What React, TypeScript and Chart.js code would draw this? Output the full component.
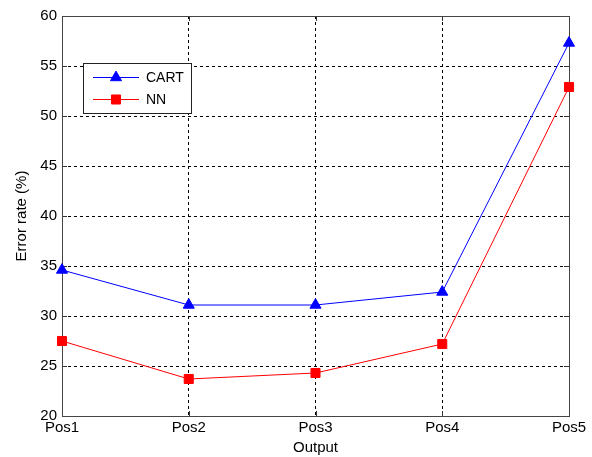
import React, { useEffect, useRef } from "react";
import { Chart, registerables } from "chart.js";

Chart.register(...registerables);

const categories = ["Pos1", "Pos2", "Pos3", "Pos4", "Pos5"];
const cartValues = [34.6, 31.1, 31.1, 32.4, 57.3];
const nnValues = [27.5, 23.7, 24.3, 27.2, 52.9];
const yTicks = { min: 20, max: 60, step: 5 };

const FONT = "'Liberation Sans', Arial, Helvetica, sans-serif";

const framePlugin = {
  id: "frame",
  beforeDatasetsDraw(chart: any) {
    const { ctx, chartArea } = chart;
    const { left, right, top, bottom } = chartArea;
    const tl = 5;
    ctx.save();
    ctx.strokeStyle = "#333333";
    ctx.lineWidth = 1;
    ctx.setLineDash([]);
    ctx.beginPath();
    const ys = chart.scales.y;
    ys.ticks.forEach((_t: any, i: number) => {
      const py = Math.round(ys.getPixelForTick(i)) + 0.5;
      ctx.moveTo(left, py);
      ctx.lineTo(left + tl, py);
      ctx.moveTo(right, py);
      ctx.lineTo(right - tl, py);
    });
    const xs = chart.scales.x;
    xs.ticks.forEach((_t: any, i: number) => {
      const px = Math.round(xs.getPixelForTick(i)) + 0.5;
      ctx.moveTo(px, bottom);
      ctx.lineTo(px, bottom - tl);
      ctx.moveTo(px, top);
      ctx.lineTo(px, top + tl);
    });
    ctx.stroke();
    ctx.strokeStyle = "#444444";
    ctx.strokeRect(Math.round(left) + 0.5, Math.round(top) + 0.5, Math.round(right - left), Math.round(bottom - top));
    ctx.restore();
  },
};

function drawMarker(ctx: CanvasRenderingContext2D, style: string, r: number, x: number, y: number) {
  ctx.beginPath();
  if (style === "triangle") {
    ctx.moveTo(x, y - r);
    ctx.lineTo(x + r * 0.866, y + r * 0.5);
    ctx.lineTo(x - r * 0.866, y + r * 0.5);
    ctx.closePath();
  } else {
    const s = r * Math.SQRT1_2;
    ctx.rect(x - s, y - s, 2 * s, 2 * s);
  }
  ctx.fill();
  ctx.stroke();
}

const legendPlugin = {
  id: "innerLegend",
  afterDraw(chart: any) {
    const { ctx } = chart;
    const bx = 83.5, by = 63.5, bw = 108, bh = 50;
    ctx.save();
    ctx.fillStyle = "#ffffff";
    ctx.fillRect(bx, by, bw, bh);
    ctx.strokeStyle = "#222222";
    ctx.lineWidth = 1;
    ctx.setLineDash([]);
    ctx.strokeRect(bx, by, bw, bh);
    const rows = [77.5, 99.5];
    chart.data.datasets.forEach((ds: any, i: number) => {
      const y = rows[i];
      ctx.strokeStyle = ds.borderColor;
      ctx.lineWidth = 1;
      ctx.beginPath();
      ctx.moveTo(93, y);
      ctx.lineTo(139, y);
      ctx.stroke();
      ctx.fillStyle = ds.pointBackgroundColor;
      ctx.strokeStyle = ds.pointBorderColor;
      drawMarker(ctx, ds.pointStyle, ds.pointRadius, 116, y);
      ctx.fillStyle = "#000000";
      ctx.font = `14px ${FONT}`;
      ctx.textAlign = "left";
      ctx.textBaseline = "middle";
      ctx.fillText(ds.label, 146, y + 0.5);
    });
    ctx.restore();
  },
};

export default function App() {
  const ref = useRef<HTMLCanvasElement | null>(null);

  useEffect(() => {
    document.body.style.margin = "0";
    if (!ref.current) return;
    const chart = new Chart(ref.current, {
      type: "line",
      data: {
        labels: categories,
        datasets: [
          {
            label: "CART",
            data: cartValues,
            borderColor: "#0000ff",
            backgroundColor: "#0000ff",
            pointBackgroundColor: "#0000ff",
            pointBorderColor: "#0000ff",
            pointStyle: "triangle",
            pointRadius: 6.4,
            borderWidth: 1,
            tension: 0,
          } as any,
          {
            label: "NN",
            data: nnValues,
            borderColor: "#ff0000",
            backgroundColor: "#ff0000",
            pointBackgroundColor: "#ff0000",
            pointBorderColor: "#ff0000",
            pointStyle: "rect",
            pointRadius: 6.4,
            borderWidth: 1,
            tension: 0,
          } as any,
        ],
      },
      options: {
        responsive: false,
        animation: false,
        layout: { padding: { top: 16, right: 23, left: 0, bottom: 0 } },
        plugins: {
          legend: { display: false },
          tooltip: { enabled: false },
        },
        scales: {
          x: {
            type: "category",
            offset: false,
            grid: { color: "#000000", lineWidth: 1, drawTicks: false },
            border: { display: false, dash: [3, 3] },
            ticks: { color: "#000000", font: { family: FONT, size: 15 }, padding: 3, maxRotation: 0 },
            title: { display: true, text: "Output", color: "#000000", font: { family: FONT, size: 15 }, padding: { top: 0, bottom: 0 } },
            afterFit(scale: any) {
              scale.height = 41;
            },
          },
          y: {
            min: yTicks.min,
            max: yTicks.max,
            grid: { color: "#000000", lineWidth: 1, drawTicks: false },
            border: { display: false, dash: [3, 3] },
            ticks: { stepSize: yTicks.step, color: "#000000", font: { family: FONT, size: 15 }, padding: 5 },
            title: { display: true, text: "Error rate (%)", color: "#000000", font: { family: FONT, size: 15 }, padding: { top: 13, bottom: 0 } },
            afterFit(scale: any) {
              scale.width = 62;
            },
          },
        },
      },
      plugins: [framePlugin, legendPlugin],
    });
    return () => chart.destroy();
  }, []);

  return (
    <div style={{ position: "absolute", left: 0, top: 0, width: 592, height: 457, background: "#fff" }}>
      <canvas ref={ref} width={592} height={457} style={{ display: "block" }} />
    </div>
  );
}
